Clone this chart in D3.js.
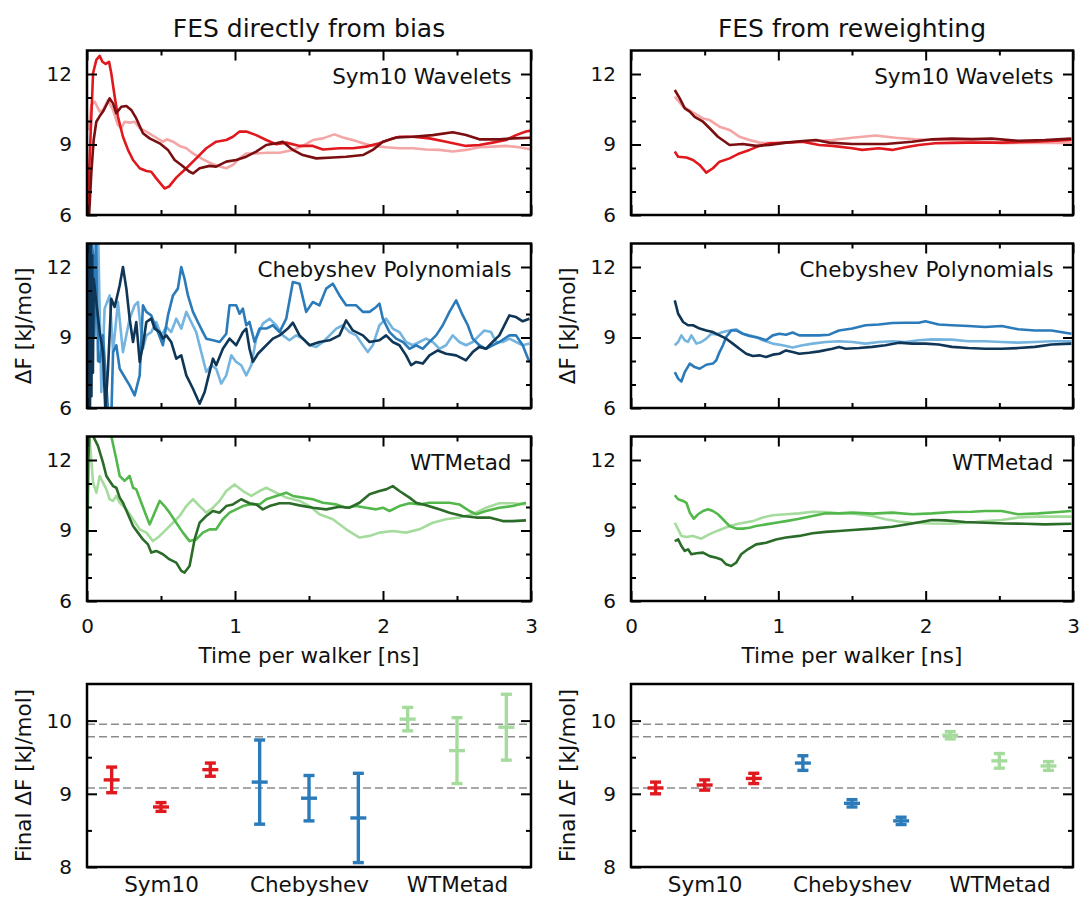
<!DOCTYPE html>
<html>
<head>
<meta charset="utf-8">
<script src="https://cdn.jsdelivr.net/npm/d3@7"></script>
<style>
  body { margin: 0; background: #fff; }
  svg { display: block; font-family: "DejaVu Sans", sans-serif; }
</style>
</head>
<body>
<div id="wrapper"></div>
<script>
// ---- data: [time per walker (ns), dF (kJ/mol)] ----
const biasSymLight = [[0.012,9.6],[0.029,10.68],[0.052,10.82],[0.086,10.40],[0.108,10.47],[0.142,10.89],[0.176,10.47],[0.209,9.83],[0.232,9.69],[0.254,9.97],[0.288,9.93],[0.322,9.97],[0.356,9.69],[0.401,9.55],[0.457,9.33],[0.513,9.12],[0.540,9.22],[0.581,9.12],[0.626,8.94],[0.671,8.84],[0.716,8.62],[0.772,8.41],[0.828,8.23],[0.885,8.09],[0.941,7.99],[0.986,8.13],[1.031,8.41],[1.076,8.62],[1.143,8.62],[1.211,8.65],[1.301,8.65],[1.391,8.77],[1.458,8.94],[1.526,9.19],[1.594,9.26],[1.672,9.43],[1.729,9.30],[1.796,9.19],[1.864,9.05],[1.931,8.94],[2.021,8.88],[2.111,8.84],[2.201,8.84],[2.291,8.79],[2.381,8.77],[2.471,8.70],[2.561,8.77],[2.651,8.88],[2.741,8.91],[2.831,8.94],[2.921,8.88],[3.0,8.79]];
const biasSymMid = [[0,5.6],[0.023,9.19],[0.041,12.03],[0.063,12.6],[0.086,12.77],[0.104,12.52],[0.126,12.43],[0.149,12.52],[0.164,12.03],[0.187,11.04],[0.209,10.18],[0.243,9.33],[0.277,8.77],[0.311,8.34],[0.356,7.99],[0.401,7.87],[0.434,7.84],[0.468,7.56],[0.524,7.13],[0.554,7.21],[0.603,7.59],[0.671,7.99],[0.738,8.41],[0.806,8.84],[0.873,9.12],[0.941,9.19],[0.986,9.33],[1.031,9.55],[1.076,9.55],[1.143,9.40],[1.211,9.19],[1.278,9.01],[1.346,9.08],[1.436,8.94],[1.526,8.94],[1.594,8.79],[1.706,8.84],[1.796,8.84],[1.886,8.91],[1.976,9.05],[2.066,9.26],[2.111,9.33],[2.201,9.33],[2.314,9.26],[2.426,9.12],[2.561,8.94],[2.651,8.98],[2.741,9.08],[2.831,9.19],[2.899,9.40],[2.966,9.55],[3.0,9.59]];
const biasSymDark = [[0.01,5.5],[0.029,7.77],[0.045,9.19],[0.063,9.97],[0.086,10.21],[0.108,10.40],[0.131,10.68],[0.153,10.96],[0.176,10.75],[0.198,10.33],[0.232,10.61],[0.266,10.64],[0.299,10.47],[0.333,10.11],[0.378,9.48],[0.423,9.26],[0.491,9.05],[0.547,8.77],[0.592,8.34],[0.637,8.13],[0.693,7.84],[0.716,7.77],[0.761,7.99],[0.828,8.09],[0.873,8.06],[0.941,8.27],[1.008,8.34],[1.076,8.48],[1.143,8.70],[1.211,8.98],[1.278,9.05],[1.323,9.12],[1.391,8.77],[1.458,8.55],[1.549,8.41],[1.661,8.45],[1.751,8.48],[1.864,8.55],[1.931,8.77],[1.999,9.12],[2.089,9.30],[2.201,9.33],[2.336,9.40],[2.471,9.52],[2.561,9.40],[2.651,9.22],[2.786,9.22],[2.876,9.26],[3.0,9.29]];

const biasChebLight = [[0,8.0],[0.01,9.0],[0.02,11.5],[0.03,13.5],[0.04,9.5],[0.05,12.0],[0.06,10.5],[0.075,13.5],[0.097,6.68],[0.119,10.23],[0.153,10.79],[0.176,8.38],[0.209,10.51],[0.243,8.38],[0.288,9.80],[0.322,10.37],[0.344,10.51],[0.378,8.52],[0.401,9.09],[0.434,9.23],[0.468,9.66],[0.502,9.09],[0.536,9.45],[0.569,9.23],[0.603,9.80],[0.637,9.38],[0.671,10.09],[0.704,9.66],[0.738,9.23],[0.772,8.38],[0.806,7.53],[0.840,7.82],[0.873,7.67],[0.907,7.04],[0.941,7.39],[0.975,8.24],[1.008,7.96],[1.042,7.82],[1.076,7.39],[1.110,7.82],[1.143,8.95],[1.188,9.59],[1.233,9.80],[1.278,9.52],[1.323,9.09],[1.368,8.88],[1.413,9.09],[1.458,8.95],[1.504,8.67],[1.549,8.60],[1.594,8.81],[1.639,9.09],[1.684,9.38],[1.729,9.52],[1.774,9.23],[1.819,9.09],[1.864,8.67],[1.897,8.38],[1.931,8.67],[1.976,9.52],[2.021,9.80],[2.066,9.38],[2.111,9.23],[2.156,8.81],[2.201,8.67],[2.246,8.81],[2.291,8.95],[2.336,8.81],[2.381,8.52],[2.426,8.67],[2.471,9.09],[2.516,8.81],[2.561,8.67],[2.606,8.81],[2.651,9.09],[2.685,9.30],[2.730,9.23],[2.764,8.81],[2.809,8.81],[2.854,8.95],[2.899,8.81],[2.944,8.67],[2.989,8.74]];
const biasChebMid = [[0,9.5],[0.02,11.0],[0.03,13.5],[0.04,12.5],[0.05,9.0],[0.06,13.5],[0.075,8.0],[0.086,7.96],[0.108,9.09],[0.131,6.96],[0.146,5.5],[0.164,5.5],[0.176,8.38],[0.198,8.67],[0.221,7.67],[0.254,7.32],[0.288,6.96],[0.322,6.54],[0.356,7.39],[0.378,10.37],[0.401,10.09],[0.434,9.94],[0.479,9.23],[0.513,8.67],[0.547,9.94],[0.581,10.79],[0.614,11.08],[0.637,12.0],[0.659,11.50],[0.682,10.79],[0.716,10.09],[0.749,9.66],[0.783,9.23],[0.806,8.95],[0.851,8.88],[0.896,8.81],[0.941,9.16],[0.963,10.37],[1.008,10.37],[1.031,10.01],[1.053,10.23],[1.076,9.52],[1.098,9.66],[1.132,8.81],[1.166,9.38],[1.211,9.38],[1.256,9.52],[1.301,9.23],[1.346,9.80],[1.391,11.36],[1.436,11.29],[1.481,10.09],[1.526,10.51],[1.571,10.37],[1.616,11.08],[1.661,11.29],[1.706,10.79],[1.751,10.37],[1.819,10.37],[1.864,10.09],[1.909,10.09],[1.954,10.30],[1.976,10.44],[1.999,9.80],[2.044,9.23],[2.089,8.95],[2.134,8.81],[2.179,8.52],[2.224,8.67],[2.269,8.52],[2.314,8.81],[2.359,9.09],[2.404,9.52],[2.449,10.09],[2.494,10.58],[2.539,9.94],[2.573,9.52],[2.606,8.95],[2.651,8.67],[2.696,8.52],[2.741,8.67],[2.786,8.81],[2.854,9.09],[2.899,9.09],[2.944,8.67],[2.989,7.96]];
const biasChebDark = [[0,4.0],[0.005,14],[0.01,5.0],[0.015,13.5],[0.02,5.5],[0.025,13.0],[0.03,6.5],[0.035,12.5],[0.04,7.5],[0.045,11.5],[0.086,9.23],[0.108,8.38],[0.124,5.9],[0.142,7.67],[0.164,10.65],[0.187,10.30],[0.221,11.22],[0.243,12.0],[0.266,11.08],[0.288,9.80],[0.311,8.81],[0.333,9.66],[0.356,7.96],[0.378,8.67],[0.401,9.66],[0.434,9.80],[0.457,9.38],[0.491,9.23],[0.513,8.95],[0.536,9.09],[0.569,8.81],[0.603,8.10],[0.637,8.24],[0.671,7.39],[0.716,6.82],[0.761,6.18],[0.795,6.68],[0.817,7.25],[0.851,8.10],[0.873,7.82],[0.918,8.52],[0.963,8.95],[1.008,8.67],[1.053,9.23],[1.076,9.38],[1.098,8.52],[1.121,7.96],[1.155,8.31],[1.188,8.52],[1.256,8.95],[1.301,9.09],[1.357,9.38],[1.391,9.63],[1.436,9.09],[1.504,8.67],[1.571,8.81],[1.639,8.88],[1.706,9.09],[1.751,9.73],[1.796,9.30],[1.864,9.09],[1.909,8.81],[1.976,8.88],[2.021,9.09],[2.066,8.81],[2.111,8.67],[2.156,8.24],[2.190,7.82],[2.224,7.96],[2.269,7.89],[2.314,8.24],[2.370,8.45],[2.426,8.31],[2.494,8.24],[2.561,8.03],[2.606,8.38],[2.651,8.60],[2.696,8.52],[2.741,8.81],[2.786,9.09],[2.854,9.94],[2.899,9.87],[2.944,9.69],[2.989,9.80]];

const biasWtLight = [[0,12.6],[0.018,12.88],[0.041,11.04],[0.063,10.61],[0.086,11.32],[0.108,11.04],[0.131,10.75],[0.153,10.33],[0.176,10.26],[0.198,10.47],[0.221,10.18],[0.266,9.90],[0.311,9.48],[0.356,9.05],[0.401,8.91],[0.446,8.55],[0.491,8.77],[0.536,9.05],[0.581,9.33],[0.626,9.62],[0.671,10.04],[0.716,10.33],[0.761,10.04],[0.806,9.76],[0.851,9.97],[0.896,10.26],[0.941,10.68],[0.997,10.96],[1.053,10.68],[1.110,10.47],[1.166,10.68],[1.211,10.82],[1.278,10.61],[1.346,10.40],[1.436,10.26],[1.504,10.04],[1.571,9.69],[1.661,9.48],[1.751,9.05],[1.841,8.70],[1.909,8.77],[1.976,8.91],[2.066,8.98],[2.156,8.91],[2.246,9.05],[2.336,9.33],[2.426,9.48],[2.516,9.55],[2.606,9.69],[2.696,9.97],[2.786,10.16],[2.876,10.16],[2.966,10.11]];
const biasWtMid = [[0,14],[0.086,14],[0.164,13.02],[0.198,12.03],[0.221,11.32],[0.254,11.11],[0.288,11.32],[0.311,10.82],[0.333,10.75],[0.367,10.18],[0.401,9.62],[0.423,9.26],[0.457,9.76],[0.491,10.26],[0.524,10.04],[0.558,9.76],[0.603,9.33],[0.648,8.91],[0.693,8.55],[0.738,8.62],[0.783,8.91],[0.828,9.05],[0.873,9.05],[0.918,9.48],[0.963,9.76],[1.008,9.90],[1.053,10.04],[1.098,10.11],[1.166,10.11],[1.211,10.33],[1.278,10.47],[1.346,10.61],[1.391,10.47],[1.458,10.40],[1.526,10.33],[1.594,10.18],[1.684,10.11],[1.751,9.97],[1.819,10.04],[1.886,9.97],[1.954,9.90],[1.999,9.97],[2.044,9.83],[2.111,10.04],[2.179,10.16],[2.246,10.11],[2.314,10.18],[2.381,10.18],[2.449,10.18],[2.516,10.11],[2.584,9.83],[2.629,9.69],[2.696,9.83],[2.786,9.97],[2.876,10.04],[2.966,10.18]];
const biasWtDark = [[0,7.0],[0.009,12.0],[0.018,13.3],[0.041,13.02],[0.074,12.6],[0.108,11.89],[0.131,11.32],[0.153,11.11],[0.176,10.89],[0.198,10.82],[0.221,10.40],[0.243,10.18],[0.277,9.69],[0.311,9.19],[0.344,8.91],[0.378,8.62],[0.412,8.41],[0.434,8.06],[0.468,8.13],[0.513,7.99],[0.558,7.77],[0.603,7.63],[0.637,7.28],[0.659,7.21],[0.693,7.49],[0.727,8.62],[0.761,9.33],[0.806,9.62],[0.851,9.83],[0.896,9.76],[0.941,10.04],[0.986,10.11],[1.042,10.33],[1.098,10.16],[1.143,10.11],[1.188,9.90],[1.233,10.04],[1.301,10.16],[1.368,10.16],[1.436,10.07],[1.526,9.97],[1.616,9.90],[1.706,10.01],[1.774,9.97],[1.841,10.18],[1.909,10.54],[1.976,10.68],[2.021,10.75],[2.066,10.89],[2.111,10.68],[2.179,10.40],[2.224,10.18],[2.291,10.07],[2.381,9.90],[2.449,9.76],[2.539,9.62],[2.629,9.55],[2.719,9.55],[2.809,9.40],[2.876,9.40],[2.966,9.43]];

const reweightSymLight = [[0.297,11.04],[0.354,10.61],[0.410,10.40],[0.489,10.11],[0.534,10.04],[0.601,9.76],[0.669,9.62],[0.736,9.33],[0.804,9.19],[0.872,9.08],[0.984,9.05],[1.164,9.12],[1.367,9.19],[1.502,9.29],[1.660,9.38],[1.795,9.29],[1.930,9.22],[2.065,9.19],[2.291,9.15],[2.516,9.05],[2.741,9.08],[2.989,9.05]];
const reweightSymMid = [[0.297,8.70],[0.320,8.48],[0.376,8.45],[0.421,8.34],[0.466,8.13],[0.511,7.80],[0.556,7.99],[0.601,8.27],[0.669,8.41],[0.736,8.62],[0.804,8.77],[0.872,8.94],[0.939,9.05],[1.052,9.08],[1.164,9.12],[1.277,8.98],[1.367,8.94],[1.502,8.84],[1.570,8.77],[1.682,8.84],[1.773,8.77],[1.863,8.88],[1.953,8.98],[2.065,9.05],[2.291,9.08],[2.516,9.08],[2.741,9.12],[2.989,9.19]];
const reweightSymDark = [[0.297,11.32],[0.331,10.96],[0.365,10.54],[0.399,10.40],[0.432,10.18],[0.489,9.97],[0.534,9.69],[0.590,9.33],[0.669,8.98],[0.759,9.02],[0.849,8.94],[0.939,8.98],[1.052,9.08],[1.164,9.15],[1.255,9.19],[1.345,9.08],[1.502,9.02],[1.727,9.02],[1.908,9.12],[2.043,9.22],[2.178,9.25],[2.313,9.23],[2.448,9.25],[2.628,9.16],[2.809,9.19],[2.989,9.25]];

const reweightChebLight = [[0.297,8.67],[0.320,8.81],[0.342,9.09],[0.365,8.88],[0.387,8.81],[0.410,9.09],[0.444,8.74],[0.477,8.81],[0.511,8.95],[0.545,9.16],[0.579,9.13],[0.624,9.23],[0.669,9.30],[0.714,9.35],[0.759,9.16],[0.804,9.09],[0.849,9.02],[0.894,8.88],[0.962,8.74],[1.029,8.67],[1.097,8.57],[1.164,8.67],[1.232,8.74],[1.322,8.81],[1.412,8.84],[1.502,8.81],[1.592,8.74],[1.682,8.81],[1.773,8.84],[1.863,8.81],[1.953,8.88],[2.043,8.92],[2.178,8.91],[2.291,8.84],[2.403,8.84],[2.516,8.81],[2.628,8.78],[2.741,8.81],[2.854,8.84],[2.989,8.84]];
const reweightChebMid = [[0.297,7.53],[0.320,7.25],[0.342,7.13],[0.365,7.53],[0.399,7.89],[0.432,7.74],[0.466,7.67],[0.511,7.84],[0.556,7.89],[0.579,8.03],[0.601,8.38],[0.624,8.67],[0.646,9.02],[0.680,9.30],[0.714,9.30],[0.759,9.16],[0.804,9.06],[0.872,8.98],[0.917,8.88],[0.962,9.09],[1.007,9.16],[1.052,9.12],[1.097,9.21],[1.142,9.09],[1.187,9.09],[1.277,9.09],[1.345,9.12],[1.412,9.30],[1.502,9.38],[1.592,9.52],[1.682,9.55],[1.773,9.62],[1.863,9.63],[1.953,9.63],[1.998,9.69],[2.088,9.55],[2.178,9.52],[2.291,9.49],[2.403,9.45],[2.516,9.49],[2.628,9.35],[2.741,9.30],[2.854,9.30],[2.989,9.16]];
const reweightChebDark = [[0.297,10.58],[0.320,10.01],[0.354,9.66],[0.387,9.52],[0.421,9.52],[0.466,9.38],[0.511,9.30],[0.556,9.23],[0.601,9.09],[0.646,8.95],[0.691,8.74],[0.736,8.52],[0.782,8.31],[0.827,8.21],[0.872,8.24],[0.917,8.17],[0.962,8.27],[1.007,8.31],[1.052,8.45],[1.097,8.38],[1.142,8.31],[1.209,8.35],[1.277,8.41],[1.367,8.52],[1.412,8.60],[1.457,8.52],[1.547,8.55],[1.637,8.60],[1.727,8.67],[1.818,8.78],[1.908,8.74],[1.998,8.74],[2.088,8.70],[2.178,8.60],[2.291,8.55],[2.403,8.52],[2.516,8.52],[2.628,8.55],[2.741,8.60],[2.854,8.70],[2.989,8.74]];

const reweightWtLight = [[0.297,9.33],[0.320,9.05],[0.342,8.77],[0.376,8.72],[0.421,8.77],[0.477,8.65],[0.511,8.77],[0.556,8.91],[0.601,9.02],[0.669,9.19],[0.736,9.30],[0.827,9.40],[0.894,9.55],[0.962,9.65],[1.052,9.69],[1.142,9.73],[1.232,9.80],[1.322,9.79],[1.412,9.73],[1.502,9.73],[1.637,9.62],[1.727,9.48],[1.818,9.38],[1.908,9.33],[2.043,9.30],[2.178,9.29],[2.291,9.33],[2.403,9.40],[2.516,9.45],[2.628,9.55],[2.764,9.59],[2.899,9.59],[2.989,9.59]];
const reweightWtMid = [[0.297,10.50],[0.320,10.33],[0.354,10.26],[0.376,10.18],[0.399,9.76],[0.426,9.50],[0.455,9.69],[0.489,9.83],[0.523,9.90],[0.556,9.83],[0.590,9.69],[0.624,9.48],[0.669,9.19],[0.714,9.08],[0.759,9.08],[0.804,9.12],[0.849,9.19],[0.917,9.26],[0.984,9.33],[1.052,9.40],[1.142,9.50],[1.232,9.62],[1.322,9.73],[1.412,9.73],[1.502,9.76],[1.637,9.72],[1.773,9.76],[1.908,9.69],[2.043,9.73],[2.178,9.79],[2.313,9.80],[2.403,9.83],[2.516,9.83],[2.628,9.69],[2.764,9.73],[2.899,9.79],[2.989,9.83]];
const reweightWtDark = [[0.297,8.55],[0.320,8.62],[0.342,8.34],[0.365,8.13],[0.387,8.20],[0.410,7.99],[0.444,8.03],[0.489,8.06],[0.534,7.91],[0.579,7.84],[0.613,7.77],[0.646,7.56],[0.680,7.49],[0.714,7.63],[0.748,7.99],[0.793,8.20],[0.849,8.41],[0.917,8.48],[0.984,8.62],[1.052,8.70],[1.142,8.77],[1.232,8.88],[1.322,8.94],[1.412,8.98],[1.502,9.02],[1.637,9.08],[1.773,9.16],[1.908,9.30],[2.043,9.45],[2.133,9.43],[2.268,9.36],[2.403,9.33],[2.538,9.30],[2.673,9.29],[2.809,9.26],[2.989,9.29]];

// final values with error bars (9 runs, grouped by method)
const finalCategories = ["Sym10", "Chebyshev", "WTMetad"];
const biasFinal = [9.19, 8.82, 9.33, 9.16, 8.94, 8.67, 10.02, 9.59, 9.91];
const biasErr = [0.175, 0.06, 0.09, 0.575, 0.31, 0.61, 0.16, 0.45, 0.45];
const reweightFinal = [9.08, 9.12, 9.21, 9.42, 8.87, 8.63, 9.80, 9.45, 9.38];
const reweightErr = [0.08, 0.07, 0.07, 0.10, 0.05, 0.05, 0.05, 0.10, 0.06];
const referenceLines = [9.95, 9.78, 9.08];

const timeMajor = [0, 1, 2, 3];
const timeMinor = [0.5, 1.5, 2.5];
const fesMajor = [6, 9, 12];
const fesMinor = [7, 8, 10, 11];
const finalMajor = [8, 9, 10];
const finalMinor = [8.5, 9.5];

const reds = ["#f4a5a5", "#e0191e", "#7a0e10"];
const blues = ["#74b4df", "#2b7bba", "#0f3656"];
const greens = ["#a5dc9d", "#53b84b", "#2b6c29"];
const finalColors = [reds[1], blues[1], greens[0]];

// ---- layout ----
const width = 1084;
const height = 898;
const font = "'DejaVu Sans', sans-serif";
const columns = [{ x0: 87, x1: 531 }, { x0: 631, x1: 1073 }];
const rows = [{ y0: 50.5, y1: 215 }, { y0: 243.5, y1: 408 }, { y0: 436.5, y1: 601 }];
const finalRow = { y0: 684, y1: 867 };

const svg = d3
  .select("#wrapper")
  .append("svg")
  .attr("width", width)
  .attr("height", height);

svg.append("rect").attr("width", width).attr("height", height).attr("fill", "#fff");

const defs = svg.append("defs");

function styleTicks(sel) {
  sel.select(".domain").remove();
  sel.selectAll("line").attr("stroke", "#000").attr("stroke-width", 2);
  sel
    .selectAll("text")
    .attr("fill", "#111")
    .attr("font-size", 20)
    .attr("font-family", font);
}

// inward ticks on all four sides; labels only on left (and bottom if asked)
function drawFrameTicks(g, xScale, yScale, opts) {
  const w = xScale.range()[1];
  const h = yScale.range()[0];
  const axes = [
    { fn: d3.axisLeft, s: yScale, tr: [0, 0], lab: true },
    { fn: d3.axisRight, s: yScale, tr: [w, 0], lab: false },
  ];
  if (opts.xTicks) {
    axes.push({ fn: d3.axisBottom, s: xScale, tr: [0, h], lab: opts.xLabels });
    axes.push({ fn: d3.axisTop, s: xScale, tr: [0, 0], lab: false });
  }
  axes.forEach((a) => {
    const isX = a.s === xScale;
    const major = isX ? opts.xMajor : opts.yMajor;
    const minor = isX ? opts.xMinor : opts.yMinor;
    const pad = isX ? 18 : 15;
    const gMaj = g
      .append("g")
      .attr("transform", `translate(${a.tr[0]},${a.tr[1]})`)
      .call(
        a.fn(a.s)
          .tickValues(major)
          .tickSizeInner(-10)
          .tickSizeOuter(0)
          .tickPadding(pad)
          .tickFormat(a.lab ? d3.format("d") : "")
      );
    styleTicks(gMaj);
    const gMin = g
      .append("g")
      .attr("transform", `translate(${a.tr[0]},${a.tr[1]})`)
      .call(a.fn(a.s).tickValues(minor).tickSizeInner(-5).tickSizeOuter(0).tickFormat(""));
    styleTicks(gMin);
  });
  g.append("rect")
    .attr("width", w)
    .attr("height", h)
    .attr("fill", "none")
    .attr("stroke", "#000")
    .attr("stroke-width", 2.5);
}

function drawTimePanel(col, row, label, seriesList, colors, id) {
  const c = columns[col];
  const r = rows[row];
  const w = c.x1 - c.x0;
  const h = r.y1 - r.y0;
  const g = svg.append("g").attr("transform", `translate(${c.x0},${r.y0})`);

  const xScale = d3.scaleLinear().domain([0, 3]).range([0, w]);
  const yScale = d3.scaleLinear().domain([6, 13]).range([h, 0]);

  defs
    .append("clipPath")
    .attr("id", id)
    .append("rect")
    .attr("width", w)
    .attr("height", h);

  const line = d3
    .line()
    .x((d) => xScale(d[0]))
    .y((d) => yScale(d[1]));

  const lines = g.append("g").attr("clip-path", `url(#${id})`);
  seriesList.forEach((s, i) => {
    lines
      .append("path")
      .datum(s)
      .attr("d", line)
      .attr("fill", "none")
      .attr("stroke", colors[i])
      .attr("stroke-width", 2.6)
      .attr("stroke-linejoin", "round");
  });

  g.append("text")
    .attr("x", w - 19.5)
    .attr("y", 33.5)
    .attr("text-anchor", "end")
    .attr("font-size", 21.5)
    .attr("font-family", font)
    .attr("fill", "#111")
    .text(label);

  drawFrameTicks(g, xScale, yScale, {
    xTicks: true,
    xLabels: row === 2,
    xMajor: timeMajor,
    xMinor: timeMinor,
    yMajor: fesMajor,
    yMinor: fesMinor,
  });
}

function drawFinalPanel(col, values, errors) {
  const c = columns[col];
  const w = c.x1 - c.x0;
  const h = finalRow.y1 - finalRow.y0;
  const g = svg.append("g").attr("transform", `translate(${c.x0},${finalRow.y0})`);

  const xScale = d3.scaleLinear().domain([-0.5, 8.5]).range([0, w]);
  const yScale = d3.scaleLinear().domain([8, 10.5]).range([h, 0]);

  g.selectAll(".ref")
    .data(referenceLines)
    .join("line")
    .attr("x1", 0)
    .attr("x2", w)
    .attr("y1", (d) => yScale(d))
    .attr("y2", (d) => yScale(d))
    .attr("stroke", "#8c8c8c")
    .attr("stroke-width", 1.6)
    .attr("stroke-dasharray", "8,4");

  const bars = g
    .selectAll(".bar")
    .data(values)
    .join("g")
    .attr("stroke", (d, i) => finalColors[Math.floor(i / 3)]);

  bars
    .append("line")
    .attr("x1", (d, i) => xScale(i))
    .attr("x2", (d, i) => xScale(i))
    .attr("y1", (d, i) => yScale(d - errors[i]))
    .attr("y2", (d, i) => yScale(d + errors[i]))
    .attr("stroke-width", 3.4);
  [-1, 1].forEach((sign) => {
    bars
      .append("line")
      .attr("x1", (d, i) => xScale(i) - 5.5)
      .attr("x2", (d, i) => xScale(i) + 5.5)
      .attr("y1", (d, i) => yScale(d + sign * errors[i]))
      .attr("y2", (d, i) => yScale(d + sign * errors[i]))
      .attr("stroke-width", 3.4);
  });
  bars
    .append("line")
    .attr("x1", (d, i) => xScale(i) - 8)
    .attr("x2", (d, i) => xScale(i) + 8)
    .attr("y1", (d) => yScale(d))
    .attr("y2", (d) => yScale(d))
    .attr("stroke-width", 3.4);

  drawFrameTicks(g, xScale, yScale, {
    xTicks: false,
    yMajor: finalMajor,
    yMinor: finalMinor,
  });

  const catAxis = g
    .append("g")
    .attr("transform", `translate(0,${h})`)
    .call(
      d3.axisBottom(xScale)
        .tickValues([1, 4, 7])
        .tickSize(0)
        .tickPadding(10)
        .tickFormat((d) => finalCategories[(d - 1) / 3])
    );
  catAxis.select(".domain").remove();
  catAxis
    .selectAll("text")
    .attr("fill", "#111")
    .attr("font-size", 21.5)
    .attr("font-family", font);
}

const labelNames = ["Sym10 Wavelets", "Chebyshev Polynomials", "WTMetad"];
const palettes = [reds, blues, greens];
const biasSeries = [
  [biasSymLight, biasSymMid, biasSymDark],
  [biasChebLight, biasChebMid, biasChebDark],
  [biasWtLight, biasWtMid, biasWtDark],
];
const reweightSeries = [
  [reweightSymLight, reweightSymMid, reweightSymDark],
  [reweightChebLight, reweightChebMid, reweightChebDark],
  [reweightWtLight, reweightWtMid, reweightWtDark],
];

[0, 1, 2].forEach((row) => {
  drawTimePanel(0, row, labelNames[row], biasSeries[row], palettes[row], `clipL${row}`);
  drawTimePanel(1, row, labelNames[row], reweightSeries[row], palettes[row], `clipR${row}`);
});

drawFinalPanel(0, biasFinal, biasErr);
drawFinalPanel(1, reweightFinal, reweightErr);

// titles and axis labels
const titles = ["FES directly from bias", "FES from reweighting"];
columns.forEach((c, i) => {
  const cx = (c.x0 + c.x1) / 2;
  svg.append("text")
    .attr("x", cx)
    .attr("y", 37)
    .attr("text-anchor", "middle")
    .attr("font-size", 25)
    .attr("font-family", font)
    .attr("fill", "#111")
    .text(titles[i]);

  svg.append("text")
    .attr("x", cx)
    .attr("y", 663)
    .attr("text-anchor", "middle")
    .attr("font-size", 21.5)
    .attr("font-family", font)
    .attr("fill", "#111")
    .text("Time per walker [ns]");

  const lx = c.x0 - 56;
  const midY = (rows[1].y0 + rows[1].y1) / 2;
  svg.append("text")
    .attr("transform", `translate(${lx},${midY}) rotate(-90)`)
    .attr("text-anchor", "middle")
    .attr("font-size", 21.5)
    .attr("font-family", font)
    .attr("fill", "#111")
    .text("ΔF [kJ/mol]");

  const finalMid = (finalRow.y0 + finalRow.y1) / 2;
  svg.append("text")
    .attr("transform", `translate(${lx},${finalMid}) rotate(-90)`)
    .attr("text-anchor", "middle")
    .attr("font-size", 21.5)
    .attr("font-family", font)
    .attr("fill", "#111")
    .text("Final ΔF [kJ/mol]");
});
</script>
</body>
</html>
